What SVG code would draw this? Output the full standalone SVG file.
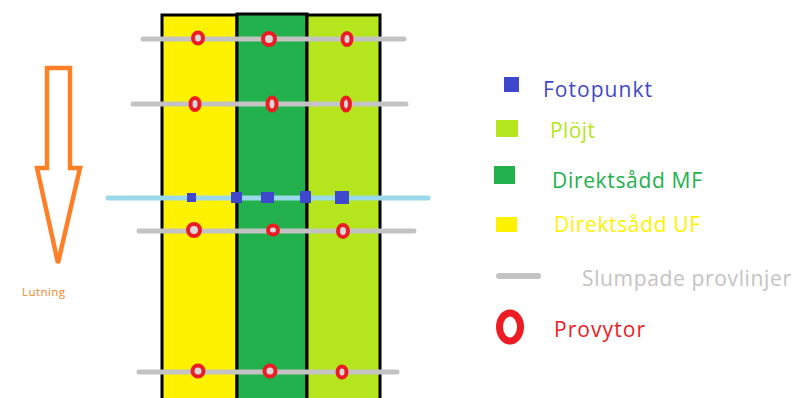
<svg xmlns="http://www.w3.org/2000/svg" width="795" height="398" viewBox="0 0 795 398">
<style>
.strip{stroke:#000;stroke-width:3}
.grey{stroke:#c3c3c3;stroke-width:5;stroke-linecap:round}
.ring{fill:#d8d8d8;stroke:#ed1c24;stroke-width:4}
.foto{fill:#3f48cc}
text{font-family:"Open Sans","DejaVu Sans",sans-serif;font-size:21px}
</style>
<rect width="795" height="398" fill="#fff"/>
<g id="strips">
<rect id="strip-uf" class="strip" x="162" y="15" width="75" height="390" fill="#fff200"/>
<rect id="strip-mf" class="strip" x="237" y="14" width="70" height="390" fill="#22b14c"/>
<rect id="strip-plojt" class="strip" x="307" y="15" width="73" height="390" fill="#b5e61d"/>
</g>
<g id="connectors">
<line class="grey" x1="143" y1="39" x2="404" y2="39"/>
<line class="grey" x1="133" y1="104" x2="406" y2="104"/>
<line x1="108" y1="198" x2="428" y2="198" stroke="#99d9ea" stroke-width="5" stroke-linecap="round"/>
<line class="grey" x1="139" y1="231" x2="414" y2="231"/>
<line class="grey" x1="139" y1="372" x2="397" y2="372"/>
</g>
<g id="photopoints">
<rect class="foto" x="187" y="193" width="9" height="9"/>
<rect class="foto" x="231" y="192" width="11" height="11"/>
<rect class="foto" x="261" y="192" width="13" height="11"/>
<rect class="foto" x="300" y="191" width="11" height="12"/>
<rect class="foto" x="335" y="191" width="14" height="13"/>
</g>
<g id="provytor">
<ellipse class="ring" cx="198" cy="38" rx="5" ry="5.5"/>
<ellipse class="ring" cx="269" cy="39" rx="6" ry="6"/>
<ellipse class="ring" cx="347" cy="39" rx="4.5" ry="6"/>
<ellipse class="ring" cx="195" cy="104" rx="4.5" ry="6"/>
<ellipse class="ring" cx="272" cy="104" rx="4.5" ry="6.5"/>
<ellipse class="ring" cx="346" cy="104" rx="4" ry="6.5"/>
<ellipse class="ring" cx="194" cy="230" rx="6" ry="6"/>
<ellipse class="ring" cx="273" cy="230" rx="5" ry="4.5"/>
<ellipse class="ring" cx="343" cy="231" rx="5" ry="6"/>
<ellipse class="ring" cx="198" cy="371" rx="5.5" ry="5.5"/>
<ellipse class="ring" cx="270" cy="371" rx="5.5" ry="5.5"/>
<ellipse class="ring" cx="342" cy="372" rx="4.5" ry="5.5"/>
</g>
<g id="lutning">
<path d="M47,68 L70,68 L70,168 L80,168 L58,263 L37,168 L47,168 Z" fill="none" stroke="#ff7f27" stroke-width="4.5" stroke-linejoin="miter"/>
<text x="22" y="296" fill="#ff7f27" style="font-size:11.5px" textLength="43">Lutning</text>
</g>
<g id="legend">
<g id="leg-foto"><rect x="504" y="77" width="15" height="15" fill="#3f48cc"/><text x="543" y="97" fill="#3f48cc" textLength="109">Fotopunkt</text></g>
<g id="leg-plojt"><rect x="496" y="120" width="22" height="17" fill="#b5e61d"/><text x="550" y="138" fill="#b5e61d" textLength="45">Plöjt</text></g>
<g id="leg-mf"><rect x="494" y="166" width="21" height="18" fill="#22b14c"/><text x="552" y="188" fill="#22b14c" textLength="150">Direktsådd MF</text></g>
<g id="leg-uf"><rect x="496" y="217" width="21" height="15" fill="#fff200"/><text x="554" y="232" fill="#fff200" textLength="146">Direktsådd UF</text></g>
<g id="leg-linjer"><line x1="499" y1="276" x2="538" y2="276" stroke="#c3c3c3" stroke-width="6" stroke-linecap="round"/><text x="582" y="286" fill="#c3c3c3" textLength="209">Slumpade provlinjer</text></g>
<g id="leg-provytor"><ellipse cx="510" cy="327" rx="10.5" ry="14" fill="#fff" stroke="#ed1c24" stroke-width="7"/><text x="554" y="337" fill="#ed1c24" textLength="91">Provytor</text></g>
</g>
</svg>
